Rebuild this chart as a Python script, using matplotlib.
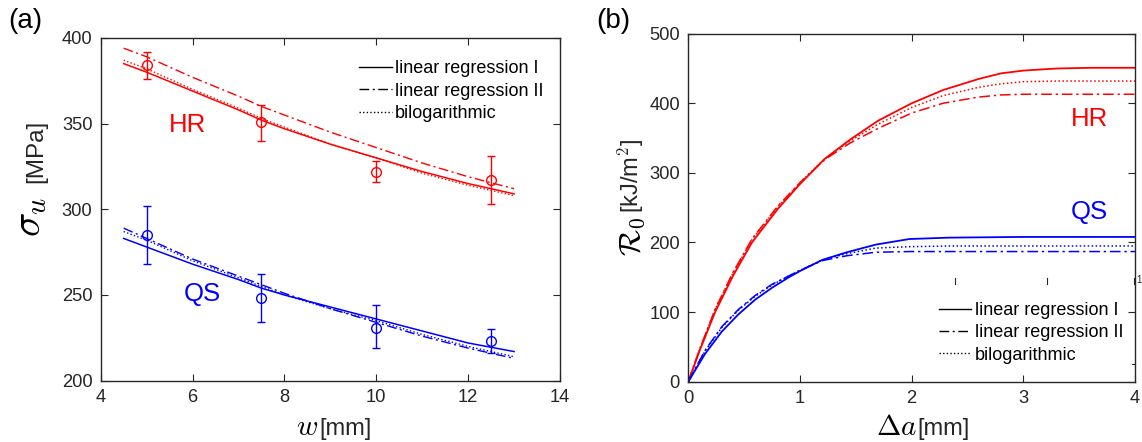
import numpy as np
import matplotlib
matplotlib.use("Agg")
import matplotlib.pyplot as plt
from matplotlib.lines import Line2D

plt.rcParams['font.family'] = ['Liberation Sans', 'DejaVu Sans']
plt.rcParams['mathtext.fontset'] = 'cm'

# ---------------- Panel (a) data ----------------
w_pts = [5, 7.5, 10, 12.5]
hr_sigma = [384, 351, 322, 317]
hr_lo = [376, 340, 316, 303]
hr_hi = [392, 361, 328, 331]
qs_sigma = [285, 248, 231, 223]
qs_lo = [268, 234, 219, 216]
qs_hi = [302, 262, 244, 230]

w_fit = [4.5, 5, 6, 7, 7.5, 8, 9, 10, 11, 12, 13]
hr_lin1 = [385, 380, 369, 358, 352, 347, 338, 330, 322, 315, 309]
hr_lin2 = [394, 389, 377, 366, 360, 355, 345, 336, 327, 319, 312]
hr_bilog = [387, 382, 370, 359, 353, 348, 338, 330, 321, 314, 308]
qs_lin1 = [283, 278, 268, 259, 254, 250, 243, 236, 229, 222, 217]
qs_lin2 = [289, 283, 271, 261, 256, 251, 242, 234, 226, 219, 213]
qs_bilog = [287, 282, 270, 260, 255, 250, 242, 235, 227, 220, 214]

# ---------------- Panel (b) data ----------------
da_hr = [0, 0.1, 0.24, 0.4, 0.57, 0.8, 1.0, 1.22, 1.45, 1.7, 2.0, 2.28, 2.6, 2.8, 3.0, 3.3, 3.6, 4.0]
hr_R_lin1 = [0, 44, 100, 152, 200, 248, 284, 320, 348, 375, 400, 419, 435, 443, 447, 450, 451, 451]
hr_R_lin2 = [0, 46, 104, 157, 205, 252, 286, 319, 343, 364, 386, 400, 409, 412, 413, 413, 413, 413]
hr_R_bilog = [0, 46, 104, 156, 204, 251, 286, 320, 346, 370, 394, 411, 423, 428, 431, 432, 432, 432]

da_qs = [0, 0.15, 0.3, 0.45, 0.6, 0.75, 0.9, 1.0, 1.2, 1.42, 1.68, 1.98, 2.34, 3.0, 4.0]
qs_R_lin1 = [0, 40, 72, 97, 118, 135, 150, 159, 175, 186, 197, 205, 207, 208, 208]
qs_R_lin2 = [0, 45, 79, 104, 124, 140, 152, 160, 174, 181, 186, 187, 187, 187, 187]
qs_R_bilog = [0, 44, 78, 103, 123, 139, 152, 160, 175, 184, 192, 194, 195, 195, 195]

legend_labels = ['linear regression I', 'linear regression II', 'bilogarithmic']

RED = '#ff0000'
BLUE = '#0000ff'
AXC = '#262626'
ls_lin2 = (0, (7, 2.5, 1.5, 2.5))
ls_bilog = (0, (1, 1.6))

W, H = 1142, 442
fig = plt.figure(figsize=(W / 100, H / 100), dpi=100)
axA = fig.add_axes([100.7 / W, 1 - 380.7 / H, 459.3 / W, 342.8 / H])
axB = fig.add_axes([688.3 / W, 1 - 381.7 / H, 446.7 / W, 348.0 / H])


def fx(px):
    return px / W


def fy(py):
    return 1 - py / H


def style_axes(ax):
    for s in ax.spines.values():
        s.set_color(AXC)
        s.set_linewidth(1.0)
    ax.tick_params(direction='in', top=True, right=True, length=5, width=0.8,
                   colors=AXC, labelsize=13.2, labelcolor='#262626', pad=6)


# ---- Panel (a) ----
for y, lo, hi, c in [(hr_sigma, hr_lo, hr_hi, RED), (qs_sigma, qs_lo, qs_hi, BLUE)]:
    y = np.array(y); lo = np.array(lo); hi = np.array(hi)
    axA.errorbar(w_pts, y, yerr=[y - lo, hi - y], fmt='o', mfc='none', mec=c,
                 ecolor=c, ms=7, mew=1.0, elinewidth=1.0, capsize=3, capthick=1.0)
axA.plot(w_fit, hr_lin1, color=RED, lw=1.1)
axA.plot(w_fit, hr_lin2, color=RED, lw=1.0, ls=ls_lin2)
axA.plot(w_fit, hr_bilog, color=RED, lw=1.0, ls=ls_bilog)
axA.plot(w_fit, qs_lin1, color=BLUE, lw=1.1)
axA.plot(w_fit, qs_lin2, color=BLUE, lw=1.0, ls=ls_lin2)
axA.plot(w_fit, qs_bilog, color=BLUE, lw=1.0, ls=ls_bilog)
axA.set_xlim(4, 14)
axA.set_ylim(200, 400)
axA.set_xticks([4, 6, 8, 10, 12, 14])
axA.set_yticks([200, 250, 300, 350, 400])
style_axes(axA)
axA.text(5.9, 349, 'HR', color=RED, fontsize=18.5, ha='center', va='center')
axA.text(6.22, 250.6, 'QS', color=BLUE, fontsize=18.5, ha='center', va='center')

# axis labels (a)
fig.text(fx(296), fy(435), r'$w$', fontsize=21, ha='left', va='baseline')
fig.text(fx(319), fy(435), '[mm]', fontsize=17, ha='left', va='baseline',
         color='#262626')
fig.text(fx(49), fy(237), r'$\sigma_u$', fontsize=29, ha='right', va='bottom',
         rotation=90)
fig.text(fx(47), fy(183), '[MPa]', fontsize=17.5, ha='right', va='bottom',
         rotation=90, color='#262626')
fig.text(fx(8), fy(21), '(a)', fontsize=20, ha='left', va='center')

handles = [Line2D([], [], color='k', lw=1.0),
           Line2D([], [], color='k', lw=1.0, ls=ls_lin2),
           Line2D([], [], color='k', lw=1.0, ls=ls_bilog)]
axA.legend(handles, legend_labels, loc='upper right', frameon=False, fontsize=13,
           handlelength=1.8, handletextpad=0.2, labelspacing=0.3,
           bbox_to_anchor=(1.0, 0.982))

# ---- Panel (b) ----
axB.plot(da_hr, hr_R_lin1, color=RED, lw=1.3)
axB.plot(da_hr, hr_R_lin2, color=RED, lw=1.1, ls=ls_lin2)
axB.plot(da_hr, hr_R_bilog, color=RED, lw=1.1, ls=ls_bilog)
axB.plot(da_qs, qs_R_lin1, color=BLUE, lw=1.3)
axB.plot(da_qs, qs_R_lin2, color=BLUE, lw=1.1, ls=ls_lin2)
axB.plot(da_qs, qs_R_bilog, color=BLUE, lw=1.1, ls=ls_bilog)
axB.set_xlim(0, 4)
axB.set_ylim(0, 500)
axB.set_xticks([0, 1, 2, 3, 4])
axB.set_yticks([0, 100, 200, 300, 400, 500])
style_axes(axB)
axB.text(3.59, 378, 'HR', color=RED, fontsize=18.5, ha='center', va='center')
axB.text(3.59, 244, 'QS', color=BLUE, fontsize=18.5, ha='center', va='center')

fig.text(fx(876), fy(435), r'$\Delta a$', fontsize=21, ha='left', va='baseline')
fig.text(fx(917), fy(435), '[mm]', fontsize=17, ha='left', va='baseline',
         color='#262626')
fig.text(fx(647), fy(256), r'$\mathcal{R}_0$', fontsize=22, ha='right',
         va='bottom', rotation=90)
fig.text(fx(646), fy(213), '[kJ/m$^2$]', fontsize=17, ha='right', va='bottom',
         rotation=90, color='#262626')
fig.text(fx(596), fy(21), '(b)', fontsize=20, ha='left', va='center')

# stray tick marks (artifact of legend axes)
for xm in [2.39, 3.21, 3.99]:
    axB.plot([xm, xm], [141, 149], color=AXC, lw=0.8, clip_on=False)
axB.plot([3.97, 4.0], [26, 26], color=AXC, lw=0.8, clip_on=False)
axB.text(4.015, 146, '1', fontsize=7, color=AXC, ha='left', va='center')
axB.legend(handles, legend_labels, loc='lower right', frameon=False, fontsize=13,
           handlelength=1.8, handletextpad=0.2, labelspacing=0.3,
           bbox_to_anchor=(1.01, 0.005))

fig.savefig('out.png', dpi=100)
